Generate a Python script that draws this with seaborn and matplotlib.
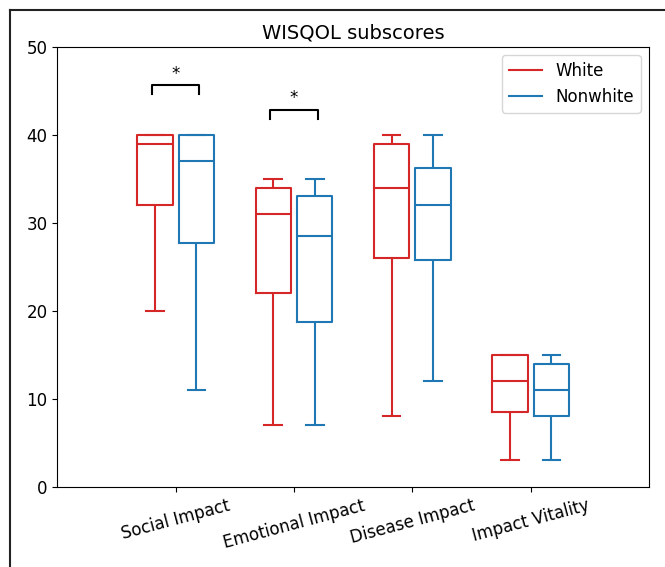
import matplotlib
matplotlib.use("Agg")
import matplotlib.pyplot as plt
from matplotlib.lines import Line2D
import numpy as np
import pandas as pd
import seaborn as sns

# WISQOL subscale summaries per group: whisker low, Q1, median, Q3, whisker high
categories = ["Social Impact", "Emotional Impact", "Disease Impact", "Impact Vitality"]
groups = ["White", "Nonwhite"]

white_low = [20, 7, 8, 3]
white_q1 = [32, 22, 26, 8.5]
white_median = [39, 31, 34, 12]
white_q3 = [40, 34, 39, 15]
white_high = [40, 35, 40, 15]

nonwhite_low = [11, 7, 12, 3]
nonwhite_q1 = [27.75, 18.75, 25.75, 8]
nonwhite_median = [37, 28.5, 32, 11]
nonwhite_q3 = [40, 33, 36.25, 14]
nonwhite_high = [40, 35, 40, 15]

# significance brackets (category, bracket height, label)
sig_categories = ["Social Impact", "Emotional Impact"]
sig_heights = [45.6, 42.8]
sig_labels = ["*", "*"]

palette = {"White": "#d62728", "Nonwhite": "#1f77b4"}

# five values per box reproduce the quartiles exactly under linear interpolation
rows = []
summaries = {
    "White": [white_low, white_q1, white_median, white_q3, white_high],
    "Nonwhite": [nonwhite_low, nonwhite_q1, nonwhite_median, nonwhite_q3, nonwhite_high],
}
for g in groups:
    for i, cat in enumerate(categories):
        for stat in summaries[g]:
            rows.append({"subscore": cat, "group": g, "score": stat[i]})
df = pd.DataFrame(rows)

fig = plt.figure(figsize=(6.65, 5.67), dpi=100)
ax = fig.add_axes([0.0862, 0.1416, 0.8898, 0.776])

sns.boxplot(
    data=df, x="subscore", y="score", hue="group", order=categories,
    hue_order=groups, palette=palette, fill=False, width=0.7, gap=0.15,
    linewidth=1.5, whis=1.5, showfliers=False, legend=False, ax=ax,
)

ax.set_xlim(-1, 4)
ax.set_ylim(0, 50)
ax.set_yticks(np.arange(0, 51, 10))
ax.set_xlabel("")
ax.set_ylabel("")
ax.set_title("WISQOL subscores", fontsize=14)
ax.tick_params(labelsize=12)
for lab in ax.get_xticklabels():
    lab.set_rotation(15)
    lab.set_ha("center")

# significance brackets
for cat, h, lab in zip(sig_categories, sig_heights, sig_labels):
    xc = categories.index(cat)
    ax.plot([xc - 0.2, xc - 0.2, xc + 0.2, xc + 0.2], [h - 1, h, h, h - 1],
            color="black", lw=1.5)
    ax.text(xc, h + 0.3, lab, ha="center", va="bottom", fontsize=12)

handles = [Line2D([0], [0], color=palette[g], lw=1.5) for g in groups]
ax.legend(handles, groups, loc="upper right", fontsize=12)

# outer frame
fig.add_artist(Line2D([9.5 / 665, 9.5 / 665], [0, 1 - 9.5 / 567],
                      transform=fig.transFigure, color="#222222", lw=1.5))
fig.add_artist(Line2D([9.5 / 665, 1], [1 - 9.5 / 567, 1 - 9.5 / 567],
                      transform=fig.transFigure, color="#222222", lw=1.5))

fig.savefig("out.png", dpi=100)
